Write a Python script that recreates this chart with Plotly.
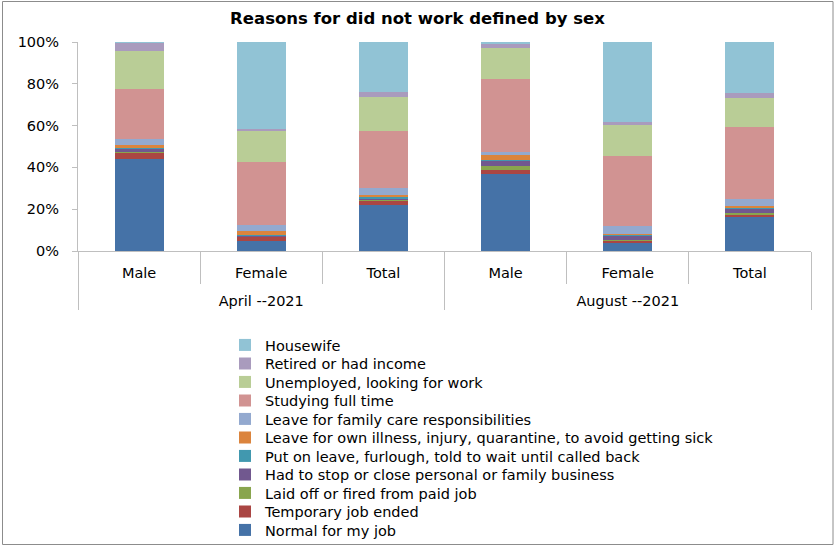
import plotly.graph_objects as go

periods = ["<br>April --2021"] * 3 + ["<br>August --2021"] * 3
sexes = ["Male", "Female", "Total"] * 2

normal = [44.0, 5.0, 22.0, 36.5, 4.0, 16.1]
temporary = [3.2, 1.9, 2.1, 2.2, 1.1, 1.1]
laid_off = [0.5, 0.2, 0.3, 1.9, 0.2, 1.0]
had_to_stop = [1.3, 0.2, 0.8, 2.4, 1.9, 1.9]
put_on_leave = [0.3, 0.2, 0.3, 0.6, 0.5, 0.8]
own_illness = [1.5, 1.9, 1.3, 2.2, 0.3, 0.8]
family_care = [3.2, 3.3, 3.2, 1.3, 4.1, 3.2]
studying = [23.9, 30.0, 27.2, 35.0, 33.6, 34.1]
unemployed = [18.2, 15.0, 16.2, 14.6, 14.6, 14.3]
retired = [4.0, 1.0, 2.4, 2.4, 1.4, 2.1]
housewife = [0.3, 41.7, 23.6, 0.5, 38.4, 24.4]

y_ticks = [0, 20, 40, 60, 80, 100]
y_tick_labels = ["0%", "20%", "40%", "60%", "80%", "100%"]

series = [
    ("Normal for my job", normal, "#4572A7"),
    ("Temporary job ended", temporary, "#AA4643"),
    ("Laid off or fired from paid job", laid_off, "#89A54E"),
    ("Had to stop or close personal or family business", had_to_stop, "#71588F"),
    ("Put on leave, furlough, told to wait until called back", put_on_leave, "#4198AF"),
    ("Leave for own illness, injury, quarantine, to avoid getting sick", own_illness, "#DB843D"),
    ("Leave for family care responsibilities", family_care, "#93A9CF"),
    ("Studying full time", studying, "#D19392"),
    ("Unemployed, looking for work", unemployed, "#B9CD96"),
    ("Retired or had income", retired, "#A99BBD"),
    ("Housewife", housewife, "#91C3D5"),
]

FONT = "DejaVu Sans"
W, H = 835, 546
L, R, T, B = 78, 24, 42, 295
pw, ph = W - L - R, H - T - B

def px_x(x):
    return (x - L) / pw

def px_y(y):
    return (H - B - y) / ph

fig = go.Figure()
n = len(series)
legend_layouts = {}
for i, (name, vals, color) in enumerate(series):
    lg = "legend" if i == 0 else f"legend{i + 1}"
    fig.add_trace(go.Bar(
        x=[periods, sexes], y=vals, name=name, legend=lg,
        marker=dict(color=color, line=dict(width=0)),
    ))
    row = n - 1 - i  # Housewife on top
    legend_layouts[lg] = dict(
        x=px_x(225), xanchor="left", y=px_y(345 + row * 18.5), yanchor="middle",
        font=dict(family=FONT, size=14.5, color="#000000"),
        itemwidth=30, bgcolor="rgba(0,0,0,0)", borderwidth=0,
    )

fig.update_layout(
    width=W, height=H,
    margin=dict(l=L, r=R, t=T, b=B, autoexpand=False),
    barmode="stack", barnorm="percent", bargap=0.6,
    plot_bgcolor="white", paper_bgcolor="white",
    font=dict(family=FONT, size=14, color="#000000"),
    title=dict(text="<b>Reasons for did not work defined by sex</b>",
               x=0.5, xanchor="center", y=1 - 18 / H, yanchor="middle",
               font=dict(family=FONT, size=16.5, color="#000000")),
    showlegend=True,
    xaxis=dict(type="multicategory", showline=True, linecolor="#BFBFBF", linewidth=1,
               ticks="outside", ticklen=32, tickcolor="#BFBFBF",
               ticklabelstandoff=9,
               showdividers=True, dividercolor="#BFBFBF", dividerwidth=1,
               tickfont=dict(family=FONT, size=14.5, color="#000000"),
               showgrid=False, zeroline=False, automargin=False),
    yaxis=dict(range=[0, 100], tickmode="array", tickvals=y_ticks, ticktext=y_tick_labels,
               showline=True, linecolor="#BFBFBF", linewidth=1,
               ticks="outside", ticklen=5, tickcolor="#BFBFBF",
               ticklabelstandoff=10,
               tickfont=dict(family=FONT, size=14.5, color="#000000"),
               showgrid=False, zeroline=False, automargin=False),
    shapes=[dict(type="rect", xref="paper", yref="paper",
                 x0=px_x(2.5), x1=px_x(833), y0=px_y(544.5), y1=px_y(1.5),
                 line=dict(color="#8C8C8C", width=1), fillcolor="rgba(0,0,0,0)",
                 layer="below")],
)
fig.update_layout(**legend_layouts)

fig.write_html("out.html", config={"displayModeBar": False},
               post_script="document.body.style.margin='0px';")
